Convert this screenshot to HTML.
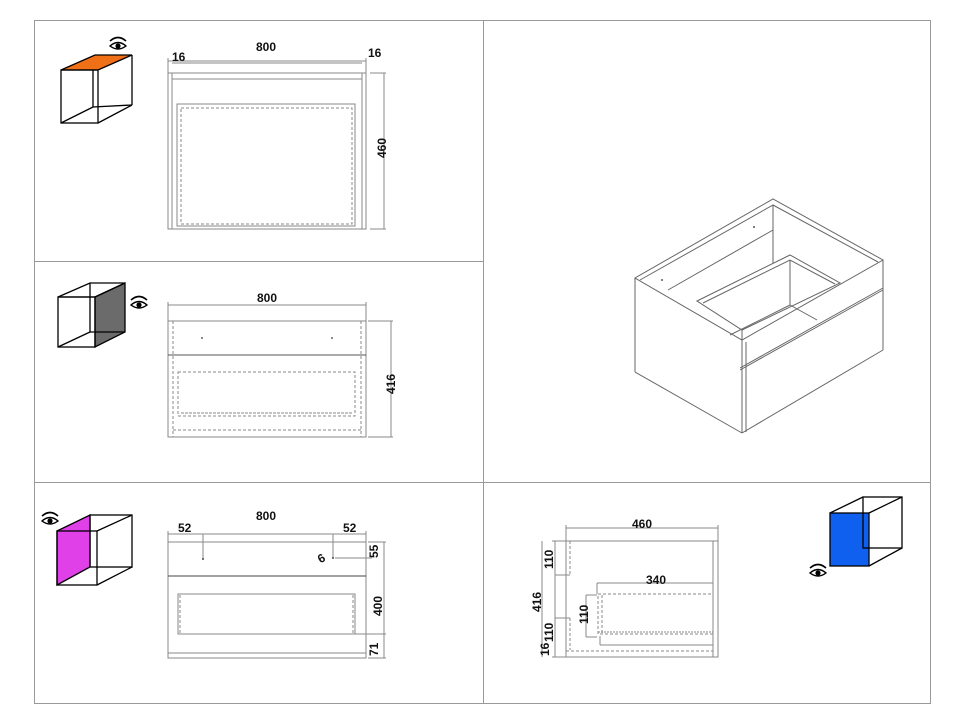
<!DOCTYPE html>
<html><head><meta charset="utf-8"><style>
html,body{margin:0;padding:0;background:#fff}
svg{display:block}
text{font-family:"Liberation Sans",sans-serif;font-weight:bold;font-size:12px;fill:#111}
</style></head><body>
<svg width="962" height="722" viewBox="0 0 962 722" xmlns="http://www.w3.org/2000/svg">
<defs>
<g id="eye"><path d="M-8,-3 Q0,-10 8,-3" fill="none" stroke="#000" stroke-width="1.6"/><path d="M-8,2 Q0,-5 8,2 Q0,8 -8,2Z" fill="#fff" stroke="#000" stroke-width="1.4"/><circle cx="0" cy="2" r="2.6" fill="#000"/></g>
</defs>
<g fill="none" stroke="#999" stroke-width="1">
<rect x="34.5" y="20.5" width="896" height="683"/>
<line x1="483.5" y1="20" x2="483.5" y2="703"/>
<line x1="34" y1="261.5" x2="483" y2="261.5"/>
<line x1="34" y1="482.5" x2="930" y2="482.5"/>
</g>

<!-- Panel 1 cube -->
<polygon points="61,70 98,70 132,55 95,55" fill="#f07018"/>
<g fill="none" stroke="#000" stroke-width="1.3">
<polygon points="61,70 98,70 132,55 95,55"/>
<rect x="61" y="70" width="37" height="53"/>
<line x1="132" y1="55" x2="132" y2="105"/><line x1="132" y1="105" x2="98" y2="123"/>
<line x1="93" y1="70" x2="93" y2="107"/><line x1="61" y1="123" x2="93" y2="107"/><line x1="93" y1="107" x2="132" y2="105"/>
</g>
<use href="#eye" x="118" y="44"/>

<!-- Panel 1 drawing -->
<g fill="none" stroke="#888" stroke-width="1">
<line x1="168" y1="61" x2="366" y2="61"/><line x1="168" y1="58" x2="168" y2="73"/><line x1="366" y1="58" x2="366" y2="73"/>
<line x1="172" y1="63" x2="362" y2="63"/>
<rect x="168" y="73" width="198" height="156"/>
<line x1="172" y1="73" x2="172" y2="229"/><line x1="362" y1="73" x2="362" y2="229"/>
<line x1="172" y1="79" x2="362" y2="79"/>
<rect x="177" y="104" width="178" height="122"/>
<rect x="181" y="108" width="171" height="116" stroke-dasharray="3,2"/>
<line x1="370" y1="73" x2="386" y2="73"/><line x1="370" y1="229" x2="386" y2="229"/><line x1="384" y1="73" x2="384" y2="229"/>
</g>
<text x="256" y="51">800</text><text x="172" y="61">16</text><text x="368" y="57">16</text>
<text transform="translate(386,158) rotate(-90)">460</text>

<!-- Panel 2 cube -->
<polygon points="95,297 125,283 125,332 95,347" fill="#6b6b6b"/>
<g fill="none" stroke="#000" stroke-width="1.3">
<polygon points="58,297 90,283 125,283 95,297"/>
<rect x="58" y="297" width="37" height="50"/>
<polygon points="95,297 125,283 125,332 95,347"/>
<line x1="90" y1="283" x2="90" y2="332"/><line x1="58" y1="347" x2="90" y2="332"/><line x1="90" y1="332" x2="125" y2="332"/>
</g>
<use href="#eye" x="139" y="303"/>

<!-- Panel 2 drawing -->
<g fill="none" stroke="#888" stroke-width="1">
<line x1="168" y1="305" x2="366" y2="305"/><line x1="168" y1="302" x2="168" y2="321"/><line x1="366" y1="302" x2="366" y2="321"/>
<rect x="168" y="321" width="198" height="116"/>
<line x1="168" y1="355" x2="366" y2="355" stroke="#555"/>
<line x1="173" y1="321" x2="173" y2="437" stroke-dasharray="3,2"/><line x1="361" y1="321" x2="361" y2="437" stroke-dasharray="3,2"/>
<rect x="178" y="372" width="177" height="44" stroke-dasharray="3,2"/>
<line x1="181" y1="413" x2="353" y2="413" stroke-dasharray="3,1"/>
<line x1="173" y1="430" x2="361" y2="430" stroke-dasharray="3,2"/>
<line x1="368" y1="321" x2="393" y2="321"/><line x1="368" y1="437" x2="393" y2="437"/><line x1="391" y1="321" x2="391" y2="437"/>
</g>
<circle cx="202" cy="338" r="1" fill="#666"/><circle cx="332" cy="338" r="1" fill="#666"/>
<text x="257" y="302">800</text>
<text transform="translate(395,394) rotate(-90)">416</text>

<!-- Panel 3 cube -->
<polygon points="57,531 90,515 90,567 57,585" fill="#e040e8"/>
<g fill="none" stroke="#000" stroke-width="1.3">
<polygon points="57,531 90,515 90,567 57,585"/>
<rect x="57" y="531" width="40" height="54"/>
<rect x="90" y="515" width="42" height="52"/>
<line x1="97" y1="531" x2="132" y2="515"/><line x1="97" y1="585" x2="132" y2="567"/>
</g>
<use href="#eye" x="50" y="519"/>

<!-- Panel 3 drawing -->
<g fill="none" stroke="#888" stroke-width="1">
<line x1="168" y1="534" x2="366" y2="534"/><line x1="168" y1="531" x2="168" y2="542"/><line x1="366" y1="531" x2="366" y2="542"/>
<line x1="203" y1="534" x2="203" y2="558"/><line x1="333" y1="534" x2="333" y2="558"/>
<rect x="168" y="542" width="198" height="116"/>
<line x1="168" y1="576" x2="366" y2="576" stroke="#444"/>
<rect x="178" y="594" width="177" height="40"/>
<line x1="180" y1="595" x2="180" y2="634" stroke-dasharray="3,2"/><line x1="353" y1="595" x2="353" y2="634" stroke-dasharray="3,2"/>
<line x1="178" y1="634" x2="355" y2="634" stroke-dasharray="3,2"/>
<line x1="168" y1="653" x2="366" y2="653"/>
<line x1="335" y1="558" x2="372" y2="558"/>
<line x1="368" y1="542" x2="386" y2="542"/><line x1="368" y1="658" x2="386" y2="658"/><line x1="384" y1="542" x2="384" y2="658"/>
<line x1="355" y1="634" x2="386" y2="634"/>
</g>
<circle cx="203" cy="559" r="1" fill="#444"/><circle cx="333" cy="558" r="1" fill="#444"/>
<text x="256" y="520">800</text><text x="178" y="532">52</text><text x="343" y="532">52</text>
<text x="318" y="562" transform="rotate(-30 322 558)">6</text>
<text transform="translate(378,558) rotate(-90)">55</text>
<text transform="translate(382,616) rotate(-90)">400</text>
<text transform="translate(378,656) rotate(-90)">71</text>

<!-- Panel 4 isometric -->
<g fill="none" stroke="#666" stroke-width="1">
<polygon points="635,278 773,199 883,260 742,340"/>
<polyline points="640,280 773,205 878,262"/>
<line x1="635" y1="278" x2="635" y2="372"/><line x1="635" y1="372" x2="742" y2="433"/>
<line x1="742" y1="340" x2="742" y2="433"/><line x1="746" y1="342" x2="746" y2="432"/>
<line x1="742" y1="433" x2="883" y2="350"/><line x1="883" y1="260" x2="883" y2="350"/>
<line x1="773" y1="205" x2="773" y2="263"/>
<line x1="773" y1="230" x2="668" y2="290"/>
<line x1="740" y1="368" x2="883" y2="288"/><line x1="740" y1="370" x2="883" y2="290"/>
<polygon points="697,301 790,255 840,283 742,330"/>
<polyline points="703,303 790,260 835,284"/>
<line x1="790" y1="260" x2="790" y2="305"/>
<line x1="790" y1="305" x2="730" y2="335"/><line x1="790" y1="305" x2="817" y2="320"/>
<line x1="742" y1="330" x2="742" y2="340"/>
</g>
<circle cx="662" cy="280" r="1" fill="#555"/><circle cx="754" cy="227" r="1" fill="#555"/>

<!-- Panel 4 cube -->
<rect x="830" y="513" width="39" height="53" fill="#1060f0" stroke="#000" stroke-width="1.3"/>
<g fill="none" stroke="#000" stroke-width="1.3">
<rect x="863" y="497" width="39" height="51"/>
<line x1="830" y1="513" x2="863" y2="497"/><line x1="869" y1="513" x2="902" y2="497"/>
<line x1="869" y1="566" x2="902" y2="548"/>
</g>
<use href="#eye" x="818" y="571"/>

<!-- Panel 4 drawing -->
<g fill="none" stroke="#888" stroke-width="1">
<line x1="566" y1="528" x2="718" y2="528"/><line x1="566" y1="525" x2="566" y2="541"/><line x1="718" y1="525" x2="718" y2="541"/>
<rect x="566" y="541" width="152" height="116"/>
<line x1="713" y1="541" x2="713" y2="657"/>
<line x1="570" y1="541" x2="570" y2="575" stroke-dasharray="3,2"/>
<line x1="570" y1="618" x2="570" y2="650" stroke-dasharray="3,2"/>
<line x1="566" y1="651" x2="713" y2="651" stroke-dasharray="3,2"/>
<line x1="597" y1="583" x2="713" y2="583"/><line x1="597" y1="583" x2="597" y2="594"/>
<rect x="598" y="594" width="115" height="40" stroke-dasharray="3,2"/>
<line x1="602" y1="595" x2="602" y2="634" stroke-dasharray="3,2"/>
<line x1="598" y1="632" x2="713" y2="632" stroke-dasharray="2,1"/>
<line x1="600" y1="645" x2="713" y2="645"/><line x1="600" y1="636" x2="600" y2="645"/>
<line x1="586" y1="595" x2="597" y2="595"/><line x1="586" y1="595" x2="586" y2="637"/><line x1="586" y1="637" x2="597" y2="637"/>
<line x1="555" y1="541" x2="555" y2="657"/><line x1="552" y1="541" x2="566" y2="541"/><line x1="552" y1="657" x2="566" y2="657"/>
<line x1="555" y1="575" x2="570" y2="575"/><line x1="555" y1="618" x2="570" y2="618"/>
<line x1="542" y1="541" x2="542" y2="657"/>
</g>
<text x="632" y="528">460</text><text x="646" y="584">340</text>
<text transform="translate(553,569) rotate(-90)">110</text>
<text transform="translate(588,624) rotate(-90)">110</text>
<text transform="translate(553,642) rotate(-90)">110</text>
<text transform="translate(541,612) rotate(-90)">416</text>
<text transform="translate(549,656) rotate(-90)">16</text>
</svg>
</body></html>
